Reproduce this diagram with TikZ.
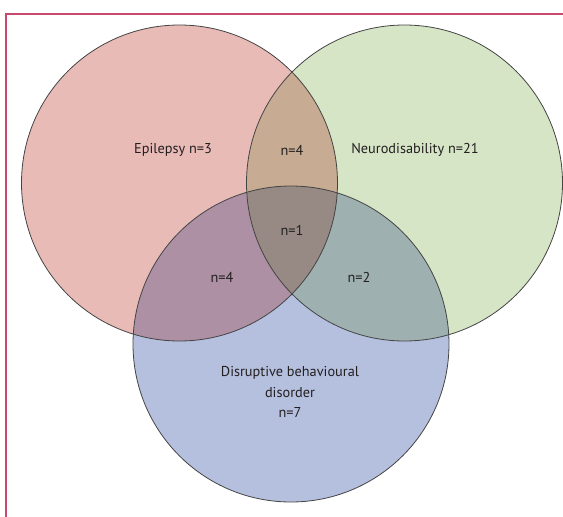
\documentclass[tikz,border=0pt]{standalone}
\usepackage{fontspec}
\setmainfont{PT Sans}
\usetikzlibrary{positioning}

\definecolor{epired}{HTML}{E8BBB7}
\definecolor{neurogreen}{HTML}{D5E5C6}
\definecolor{dbdblue}{HTML}{B5C0DF}
\definecolor{epineuro}{HTML}{C8AB93}
\definecolor{epidbd}{HTML}{AD90A3}
\definecolor{neurodbd}{HTML}{9EB1B0}
\definecolor{allthree}{HTML}{978A85}
\definecolor{framepink}{HTML}{C8486E}
\definecolor{txtgray}{HTML}{231F20}
\definecolor{ringgray}{HTML}{444444}

\tikzset{
  ring/.style={draw=ringgray, line width=0.8pt},
  count/.style={font=\fontsize{14.3}{20.5}\selectfont, text=txtgray, inner sep=0pt}
}

\begin{document}
\begin{tikzpicture}[x=1pt,y=-1pt]
        \useasboundingbox (0,0) rectangle (563,517);

        % Draw the frame
        \draw[framepink, line width=1.1pt] (6,517) -- (6,14) -- (563,14);

        % Centres of the three sets
        \def\rad{158pt}
        \coordinate (epi) at (179.5,183);
        \coordinate (neuro) at (404.5,183);
        \coordinate (dbd) at (291,344);

        % Fill the circles
        \fill[epired] (epi) circle (\rad);
        \fill[neurogreen] (neuro) circle (\rad);
        \fill[dbdblue] (dbd) circle (\rad);

        % Fill the overlaps
        \begin{scope}
            \clip (neuro) circle (\rad);
            \fill[neurodbd] (dbd) circle (\rad);
        \end{scope}
        \begin{scope}
            \clip (epi) circle (\rad);
            \fill[epineuro] (neuro) circle (\rad);
            \fill[epidbd] (dbd) circle (\rad);
            \clip (neuro) circle (\rad);
            \fill[allthree] (dbd) circle (\rad);
        \end{scope}

        % Draw the outlines
        \draw[ring] (epi) circle (\rad);
        \draw[ring] (neuro) circle (\rad);
        \draw[ring] (dbd) circle (\rad);

        % Add the counts
        \node[count] (epilabel) at (173,150) {Epilepsy n=3};
        \node[count] (neurolabel) at (415,150) {Neurodisability n=21};
        \node[count] (epineurolabel) at (292,150) {n=4};
        \node[count] (alllabel) at (292,230) {n=1};
        \node[count] (epidbdlabel) at (222,277) {n=4};
        \node[count] (neurodbdlabel) at (359,277) {n=2};
        \node[count, align=center] (dbdlabel) at (290,392) {Disruptive behavioural\\disorder\\n=7};
\end{tikzpicture}
\end{document}
